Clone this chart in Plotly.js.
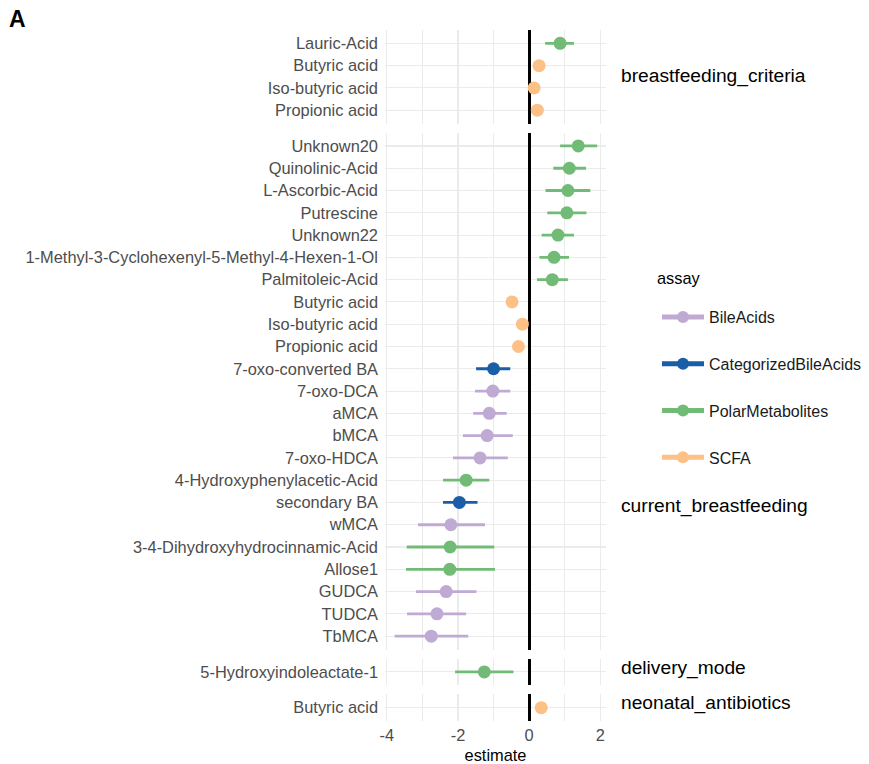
<!DOCTYPE html>
<html>
<head>
<meta charset="utf-8">
<script src="https://cdn.plot.ly/plotly-3.0.1.min.js"></script>
<style>html,body{margin:0;padding:0;background:#fff;}</style>
</head>
<body>
<div id="chart" style="width:869px;height:764px;"></div>
<script>
// ---------------- DATA ----------------
const assays = ['BileAcids', 'CategorizedBileAcids', 'PolarMetabolites', 'SCFA'];
const facetNames = ['breastfeeding_criteria', 'current_breastfeeding', 'delivery_mode', 'neonatal_antibiotics'];

// breastfeeding_criteria
const critLabels = ['Lauric-Acid', 'Butyric acid', 'Iso-butyric acid', 'Propionic acid'];
const critAssay  = ['PolarMetabolites', 'SCFA', 'SCFA', 'SCFA'];
const critEst    = [0.87, 0.28, 0.14, 0.23];
const critLow    = [0.45, 0.20, 0.06, 0.15];
const critHigh   = [1.26, 0.36, 0.22, 0.31];

// current_breastfeeding
const curLabels = ['Unknown20', 'Quinolinic-Acid', 'L-Ascorbic-Acid', 'Putrescine', 'Unknown22',
  '1-Methyl-3-Cyclohexenyl-5-Methyl-4-Hexen-1-Ol', 'Palmitoleic-Acid', 'Butyric acid', 'Iso-butyric acid',
  'Propionic acid', '7-oxo-converted BA', '7-oxo-DCA', 'aMCA', 'bMCA', '7-oxo-HDCA',
  '4-Hydroxyphenylacetic-Acid', 'secondary BA', 'wMCA', '3-4-Dihydroxyhydrocinnamic-Acid', 'Allose1',
  'GUDCA', 'TUDCA', 'TbMCA'];
const curAssay = ['PolarMetabolites', 'PolarMetabolites', 'PolarMetabolites', 'PolarMetabolites', 'PolarMetabolites',
  'PolarMetabolites', 'PolarMetabolites', 'SCFA', 'SCFA', 'SCFA', 'CategorizedBileAcids', 'BileAcids', 'BileAcids',
  'BileAcids', 'BileAcids', 'PolarMetabolites', 'CategorizedBileAcids', 'BileAcids', 'PolarMetabolites',
  'PolarMetabolites', 'BileAcids', 'BileAcids', 'BileAcids'];
const curEst  = [1.38, 1.13, 1.09, 1.06, 0.81, 0.70, 0.65, -0.48, -0.19, -0.30, -1.00, -1.02, -1.12, -1.18, -1.38,
  -1.77, -1.96, -2.20, -2.22, -2.23, -2.33, -2.59, -2.75];
const curLow  = [0.87, 0.68, 0.46, 0.51, 0.35, 0.29, 0.22, -0.56, -0.27, -0.38, -1.49, -1.52, -1.57, -1.86, -2.14,
  -2.42, -2.42, -3.12, -3.44, -3.46, -3.18, -3.43, -3.78];
const curHigh = [1.91, 1.60, 1.72, 1.61, 1.26, 1.12, 1.09, -0.40, -0.11, -0.22, -0.53, -0.53, -0.63, -0.46, -0.60,
  -1.12, -1.45, -1.24, -0.98, -0.96, -1.48, -1.77, -1.71];

// delivery_mode
const delLabels = ['5-Hydroxyindoleactate-1'];
const delAssay  = ['PolarMetabolites'];
const delEst    = [-1.26];
const delLow    = [-2.08];
const delHigh   = [-0.44];

// neonatal_antibiotics
const abxLabels = ['Butyric acid'];
const abxAssay  = ['SCFA'];
const abxEst    = [0.34];
const abxLow    = [0.26];
const abxHigh   = [0.42];

// x-axis ticks
const xTickVals   = [-4, -2, 0, 2];
const xTickLabels = ['-4', '-2', '0', '2'];
const xRange = [-4.05, 2.16];

// ---------------- STYLE / LAYOUT ----------------
const colors = {
  BileAcids: '#bfaad3',
  CategorizedBileAcids: '#1b5ea8',
  PolarMetabolites: '#72bb76',
  SCFA: '#fdc086'
};
const FONT = 'Liberation Sans, Arial, Helvetica, sans-serif';

const panels = [
  {labels: critLabels, assay: critAssay, est: critEst, low: critLow, high: critHigh},
  {labels: curLabels, assay: curAssay, est: curEst, low: curLow, high: curHigh},
  {labels: delLabels, assay: delAssay, est: delEst, low: delLow, high: delHigh},
  {labels: abxLabels, assay: abxAssay, est: abxEst, low: abxLow, high: abxHigh}
];

const W = 869, H = 764;
const L = 385, R = 606, T = 30, B = 721, GAP = 9;
const units = panels.map(p => p.labels.length + 0.2);
const totalUnits = units.reduce((a, b) => a + b, 0);
const unitPx = (B - T - GAP * (panels.length - 1)) / totalUnits;
const plotH = B - T;
const px2x = px => (px - L) / (R - L);
const px2y = py => (B - py) / plotH;

const layout = {
  width: W, height: H, autosize: false,
  margin: {l: L, r: W - R, t: T, b: H - B, pad: 0, autoexpand: false},
  paper_bgcolor: '#ffffff', plot_bgcolor: 'rgba(0,0,0,0)',
  font: {family: FONT, size: 16, color: '#1a1a1a'},
  showlegend: true,
  title: {
    text: '<b>A</b>', font: {family: FONT, size: 23, color: '#000000'},
    xref: 'container', yref: 'container', x: 9 / W, xanchor: 'left', y: 1 - 19 / H, yanchor: 'middle'
  },
  xaxis: {
    anchor: 'y4', domain: [0, 1], range: xRange, tickmode: 'array', tickvals: xTickVals, ticktext: xTickLabels,
    showgrid: true, gridcolor: '#ebebeb', gridwidth: 1.1,
    minor: {dtick: 1, tick0: 0, showgrid: true, gridcolor: '#ebebeb', gridwidth: 1.0, ticks: ''},
    zeroline: true, zerolinecolor: '#000000', zerolinewidth: 3,
    showline: false, ticks: '', automargin: false, fixedrange: true, ticklabelstandoff: 3,
    tickfont: {family: FONT, size: 16.4, color: '#4d4d4d'},
    title: {text: 'estimate', font: {family: FONT, size: 16.4, color: '#000000'}, standoff: 6}
  },
  legend: {
    x: px2x(657), xanchor: 'left', xref: 'paper',
    y: px2y(300), yanchor: 'top', yref: 'paper',
    font: {family: FONT, size: 16, color: '#1a1a1a'},
    tracegroupgap: 23, itemsizing: 'constant', itemwidth: 42, bgcolor: 'rgba(0,0,0,0)', borderwidth: 0,
    traceorder: 'grouped'
  },
  annotations: [{
    text: 'assay', xref: 'paper', yref: 'paper', x: px2x(655), xanchor: 'left', y: px2y(278), yanchor: 'middle',
    showarrow: false, font: {family: FONT, size: 16.4, color: '#000000'}
  }],
  hovermode: false
};

let yTop = T;
panels.forEach((p, i) => {
  const h = units[i] * unitPx;
  const d0 = (B - (yTop + h)) / plotH;
  const d1 = (B - yTop) / plotH;
  const key = i === 0 ? 'yaxis' : 'yaxis' + (i + 1);
  const n = p.labels.length;
  layout[key] = {
    domain: [Math.max(0, d0), Math.min(1, d1)], anchor: 'x',
    type: 'category', categoryorder: 'array', categoryarray: p.labels,
    range: [n - 1 + 0.6, -0.6],
    showgrid: true, gridcolor: '#ebebeb', gridwidth: 1.1,
    zeroline: false, showline: false, ticks: '', automargin: false, fixedrange: true,
    ticklabelstandoff: 6,
    tickfont: {family: FONT, size: 16.4, color: '#4d4d4d'}
  };
  yTop += h + GAP;
});

const stripY = [76, 506, 668, 703];
facetNames.forEach((name, i) => {
  layout.annotations.push({
    text: name, xref: 'paper', yref: 'paper',
    x: px2x(619), xanchor: 'left',
    y: px2y(stripY[i]), yanchor: 'middle',
    showarrow: false, font: {family: FONT, size: 19.2, color: '#000000'}
  });
});

// ---------------- TRACES ----------------
const traces = [];
assays.forEach(a => {
  let first = true;
  panels.forEach((p, i) => {
    const xs = [], ys = [], sz = [];
    p.labels.forEach((lab, j) => {
      if (p.assay[j] !== a) return;
      xs.push(p.low[j], p.est[j], p.high[j], null);
      ys.push(lab, lab, lab, null);
      sz.push(0, 13, 0, 0);
    });
    if (!xs.length) return;
    traces.push({
      type: 'scatter', mode: 'lines+markers', name: a, legendgroup: a, showlegend: first,
      x: xs, y: ys, xaxis: 'x', yaxis: i === 0 ? 'y' : 'y' + (i + 1),
      line: {color: colors[a], width: 2.8}, connectgaps: false,
      marker: {color: colors[a], size: sz, opacity: 1, line: {width: 0}},
      hoverinfo: 'skip', cliponaxis: false
    });
    first = false;
  });
});

Plotly.newPlot('chart', traces, layout, {staticPlot: true, displayModeBar: false});
</script>
</body>
</html>
